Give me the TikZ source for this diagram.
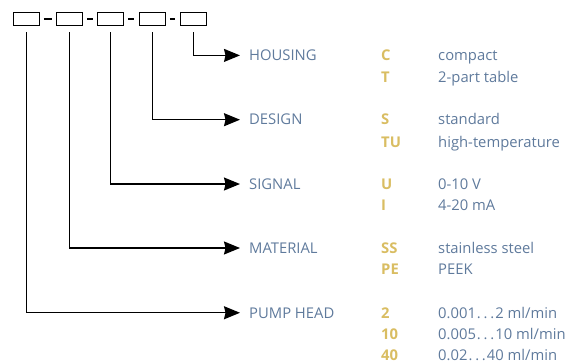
\documentclass[tikz,border=0pt]{standalone}
\usepackage{fontspec}
\setmainfont{Open Sans}
\usetikzlibrary{arrows.meta}
\definecolor{lab}{HTML}{5F7A9C}
\definecolor{codec}{HTML}{D9BD62}
\newcommand{\mydots}{\kern1pt.\kern2.8pt.\kern2.8pt.\kern1pt}
\begin{document}
\begin{tikzpicture}[x=1pt,y=-1pt,
  box/.style={draw, line width=1.3pt, minimum width=26pt, minimum height=13pt, inner sep=0pt},
  dashline/.style={line width=1.3pt, shorten <=4pt, shorten >=4.5pt},
  conn/.style={line width=1.3pt, shorten <=6pt, shorten >=9pt, -{Stealth[length=16pt,width=13pt,inset=1.5pt]}},
  txt/.style={anchor=base west, inner sep=0pt, font=\fontsize{14.8}{17}\selectfont},
  lbl/.style={txt, text=lab},
  codetxt/.style={txt, text=codec, font=\fontsize{14.8}{17}\selectfont\bfseries},
  desc/.style={txt, text=lab}]
\useasboundingbox (0,0) rectangle (586,363);
% boxes
\node[box] (b1) at (26.2,19) {};
\node[box] (b2) at (69.7,19) {};
\node[box] (b3) at (110.7,19) {};
\node[box] (b4) at (152.2,19) {};
\node[box] (b5) at (193.2,19) {};
\draw[dashline] (b1.east) -- (b2.west);
\draw[dashline] (b2.east) -- (b3.west);
\draw[dashline] (b3.east) -- (b4.west);
\draw[dashline] (b4.east) -- (b5.west);
% labels
\node[lbl] (lh) at (249,60.7) {HOUSING};
\node[lbl] (ld) at (249,125) {DESIGN};
\node[lbl] (ls) at (249,189.3) {SIGNAL};
\node[lbl] (lm) at (249,253.3) {MATERIAL};
\node[lbl] (lp) at (249,318) {PUMP HEAD};
% connectors
\draw[conn] (b5.south) |- (lh.west);
\draw[conn] (b4.south) |- (ld.west);
\draw[conn] (b3.south) |- (ls.west);
\draw[conn] (b2.south) |- (lm.west);
\draw[conn] (b1.south) |- (lp.west);
% codes
\node[codetxt] (c1) at (381,60.7) {C};
\node[codetxt] (c2) at (381,83) {T};
\node[codetxt] (c3) at (381,125) {S};
\node[codetxt] (c4) at (381,147.3) {TU};
\node[codetxt] (c5) at (381,189.3) {U};
\node[codetxt] (c6) at (381,211) {I};
\node[codetxt] (c7) at (381,253.3) {SS};
\node[codetxt] (c8) at (381,275) {PE};
\node[codetxt] (c9) at (381,318) {2};
\node[codetxt] (c10) at (381,339) {10};
\node[codetxt] (c11) at (381,360) {40};
% descriptions
\node[desc] (d1) at (438,60.7) {compact};
\node[desc] (d2) at (438,83) {2-part table};
\node[desc] (d3) at (438,125) {standard};
\node[desc] (d4) at (438,147.3) {high-temperature};
\node[desc] (d5) at (438,189.3) {0-10 V};
\node[desc] (d6) at (438,211) {4-20 mA};
\node[desc] (d7) at (438,253.3) {stainless steel};
\node[desc] (d8) at (438,275) {PEEK};
\node[desc] (d9) at (438,318) {0.001\mydots2 ml/min};
\node[desc] (d10) at (438,339) {0.005\mydots10 ml/min};
\node[desc] (d11) at (438,360) {0.02\mydots40 ml/min};
\end{tikzpicture}
\end{document}
